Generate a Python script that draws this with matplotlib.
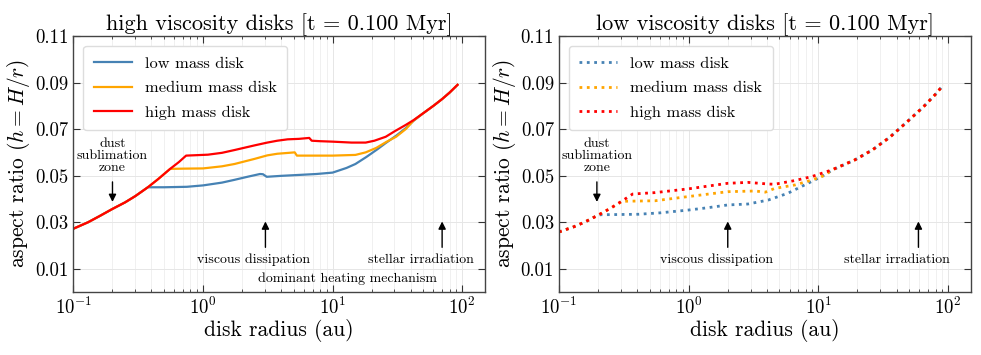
import numpy as np
import matplotlib
matplotlib.use("Agg")
import matplotlib.pyplot as plt

plt.rcParams['font.family'] = 'serif'
plt.rcParams['font.serif'] = ['cmr10', 'DejaVu Serif']
plt.rcParams['mathtext.fontset'] = 'cm'
plt.rcParams['axes.formatter.use_mathtext'] = True
plt.rcParams['axes.unicode_minus'] = False

# high viscosity disks
hv_low_r = [0.1, 0.13, 0.16, 0.2, 0.25, 0.3, 0.375, 0.5, 0.75, 1.0, 1.4, 1.75, 2.2, 2.75, 2.9, 3.1,
            4.0, 5.5, 7.5, 10, 12.8, 15, 18.2, 22, 25.7, 31, 36.7, 42, 50, 60, 70, 80, 92]
hv_low_h = [0.0272, 0.0300, 0.0327, 0.0357, 0.0385, 0.0412, 0.0450, 0.0450, 0.0452, 0.0458, 0.0470,
            0.0482, 0.0495, 0.0507, 0.0506, 0.0495, 0.0499, 0.0503, 0.0507, 0.0513, 0.0533, 0.0550,
            0.0580, 0.0612, 0.0640, 0.0672, 0.0704, 0.0735, 0.0768, 0.0800, 0.0829, 0.0857, 0.0890]
hv_med_r = [0.1, 0.13, 0.16, 0.2, 0.25, 0.3, 0.375, 0.45, 0.557, 0.7, 1.0, 1.4, 1.75, 2.5, 3.13,
            3.74, 4.86, 5.1, 5.3, 7, 10, 15, 18, 21.7, 26, 30.9, 36.7, 42, 50, 60, 70, 80, 92]
hv_med_h = [0.0272, 0.0300, 0.0327, 0.0357, 0.0385, 0.0412, 0.0450, 0.0485, 0.0529, 0.0530, 0.0531,
            0.0540, 0.0550, 0.0572, 0.0587, 0.0594, 0.0599, 0.0600, 0.0586, 0.0586, 0.0586, 0.0589,
            0.0600, 0.0619, 0.0645, 0.0667, 0.0700, 0.0736, 0.0768, 0.0800, 0.0829, 0.0857, 0.0890]
hv_high_r = [0.1, 0.13, 0.16, 0.2, 0.25, 0.3, 0.375, 0.45, 0.557, 0.65, 0.74, 0.9, 1.09, 1.4, 1.75,
             2.5, 3.13, 3.74, 4.5, 5.5, 6.6, 6.9, 8, 10, 14, 18, 21, 25.7, 30, 36.7, 42, 50, 60, 70, 80, 92]
hv_high_h = [0.0272, 0.0300, 0.0327, 0.0357, 0.0385, 0.0412, 0.0450, 0.0485, 0.0529, 0.0558, 0.0586,
             0.0588, 0.0590, 0.0598, 0.0610, 0.0630, 0.0642, 0.0650, 0.0656, 0.0658, 0.0662, 0.0650,
             0.0648, 0.0646, 0.0642, 0.0642, 0.0650, 0.0667, 0.0690, 0.0718, 0.0738, 0.0768, 0.0800,
             0.0829, 0.0857, 0.0890]

# low viscosity disks
lv_low_r = [0.1, 0.13, 0.16, 0.2, 0.21, 0.3, 0.41, 0.6, 0.99, 1.4, 2.0, 2.86, 4.1, 5.8, 8.3, 10.6,
            13, 19, 26, 35.5, 48, 64.6, 80, 92]
lv_low_h = [0.0258, 0.0280, 0.0302, 0.0330, 0.0332, 0.0333, 0.0334, 0.0340, 0.0352, 0.0362, 0.0374,
            0.0378, 0.0395, 0.0424, 0.0467, 0.0496, 0.0526, 0.0567, 0.0610, 0.0665, 0.0730, 0.0796,
            0.0850, 0.0890]
lv_med_r = [0.1, 0.13, 0.16, 0.2, 0.25, 0.31, 0.33, 0.55, 0.99, 2.0, 3.24, 3.9, 4.6, 6.6, 8.9, 11,
            13, 19, 26, 35.5, 48, 64.6, 80, 92]
lv_med_h = [0.0258, 0.0280, 0.0302, 0.0330, 0.0360, 0.0391, 0.0390, 0.0392, 0.0410, 0.0431, 0.0434,
            0.0429, 0.0445, 0.0460, 0.0481, 0.0500, 0.0527, 0.0567, 0.0610, 0.0665, 0.0730, 0.0796,
            0.0850, 0.0890]
lv_high_r = [0.1, 0.13, 0.16, 0.2, 0.25, 0.31, 0.37, 0.55, 0.99, 2.0, 2.86, 4.1, 4.6, 6.6, 8.9, 12.6,
             19, 26, 35.5, 48, 64.6, 80, 92]
lv_high_h = [0.0258, 0.0280, 0.0302, 0.0330, 0.0360, 0.0393, 0.0421, 0.0427, 0.0443, 0.0467, 0.0471,
             0.0464, 0.0463, 0.0479, 0.0496, 0.0524, 0.0567, 0.0610, 0.0665, 0.0730, 0.0796, 0.0850,
             0.0890]

labels = ['low mass disk', 'medium mass disk', 'high mass disk']
colors = ['#4682b4', '#ffa500', '#ff0000']
yticks = [0.01, 0.03, 0.05, 0.07, 0.09, 0.11]

fig = plt.figure(figsize=(9.81, 3.55), dpi=100)
ax1 = fig.add_axes([0.0749, 0.1775, 0.4195, 0.7211])
ax2 = fig.add_axes([0.5698, 0.1775, 0.4200, 0.7211])

panels = [
    (ax1, [(hv_low_r, hv_low_h), (hv_med_r, hv_med_h), (hv_high_r, hv_high_h)], '-', 1.6,
     'high viscosity disks [t = 0.100 Myr]'),
    (ax2, [(lv_low_r, lv_low_h), (lv_med_r, lv_med_h), (lv_high_r, lv_high_h)], ':', 2.0,
     'low viscosity disks [t = 0.100 Myr]'),
]

for ax, series, ls, lw, title in panels:
    for (r, h), lab, c in zip(series, labels, colors):
        ax.plot(r, h, ls, color=c, lw=lw, label=lab)
    ax.set_xscale('log')
    ax.set_xlim(0.1, 150)
    ax.set_ylim(0, 0.11)
    ax.set_yticks(yticks)
    ax.set_yticklabels(['%.2f' % v for v in yticks])
    ax.grid(True, which='major', color='#e6e6e6', lw=0.7)
    ax.grid(True, which='minor', axis='x', color='#eeeeee', lw=0.6)
    ax.set_axisbelow(True)
    ax.tick_params(which='both', direction='in', top=True, right=True, colors='#333333',
                   labelcolor='black')
    ax.tick_params(which='major', length=5, labelsize=13.5)
    ax.tick_params(which='minor', length=2.5)
    for s in ax.spines.values():
        s.set_color('#444444')
        s.set_linewidth(1.0)
    ax.set_xlabel('disk radius (au)', fontsize=15.5, labelpad=1)
    ax.set_ylabel(r'aspect ratio $(h = H/r)$', fontsize=15.5, labelpad=2)
    ax.set_title(title, fontsize=16, pad=3)
    ax.legend(loc='upper left', fontsize=11.8, handlelength=2.3, handletextpad=0.8,
              borderpad=0.65, labelspacing=0.6, framealpha=1, edgecolor='#dddddd',
              borderaxespad=0.6)

arrow = dict(arrowstyle='-|>', color='black', lw=1.0, mutation_scale=11)
txt = dict(ha='center', va='center', fontsize=10)

# high viscosity annotations
ax1.text(0.2, 0.0585, 'dust\nsublimation\nzone', linespacing=0.95, **txt)
ax1.annotate('', xy=(0.2, 0.0375), xytext=(0.2, 0.0485), arrowprops=arrow)
ax1.annotate('', xy=(3.03, 0.0315), xytext=(3.03, 0.018), arrowprops=arrow)
ax1.text(2.45, 0.0137, 'viscous dissipation', **txt)
ax1.annotate('', xy=(70, 0.0315), xytext=(70, 0.018), arrowprops=arrow)
ax1.text(48, 0.0137, 'stellar irradiation', **txt)
ax1.text(13.1, 0.0059, 'dominant heating mechanism', **txt)

# low viscosity annotations
ax2.text(0.196, 0.0585, 'dust\nsublimation\nzone', linespacing=0.95, **txt)
ax2.annotate('', xy=(0.196, 0.0375), xytext=(0.196, 0.0485), arrowprops=arrow)
ax2.annotate('', xy=(2.0, 0.0315), xytext=(2.0, 0.018), arrowprops=arrow)
ax2.text(1.64, 0.0137, 'viscous dissipation', **txt)
ax2.annotate('', xy=(59, 0.0315), xytext=(59, 0.018), arrowprops=arrow)
ax2.text(40.6, 0.0137, 'stellar irradiation', **txt)

fig.savefig('out.png', dpi=100)
